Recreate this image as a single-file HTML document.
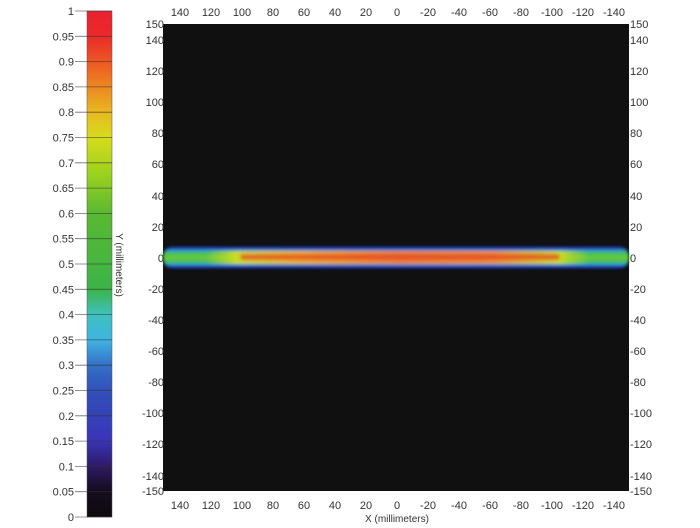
<!DOCTYPE html>
<html><head><style>
html,body{margin:0;padding:0;background:#fff;}
svg{display:block;font-family:"Liberation Sans",Arial,sans-serif;}
</style></head><body>
<svg width="700" height="528" viewBox="0 0 700 528" xmlns="http://www.w3.org/2000/svg">
<defs>
<linearGradient id="cb" x1="0" y1="1" x2="0" y2="0">
<stop offset="0" stop-color="#0d0a0d"/>
<stop offset="0.05" stop-color="#140c1c"/>
<stop offset="0.1" stop-color="#2e1a66"/>
<stop offset="0.15" stop-color="#3a34b8"/>
<stop offset="0.25" stop-color="#3150b8"/>
<stop offset="0.3" stop-color="#3470c8"/>
<stop offset="0.35" stop-color="#3fb4e0"/>
<stop offset="0.4" stop-color="#3fc0c0"/>
<stop offset="0.45" stop-color="#3cb448"/>
<stop offset="0.6" stop-color="#5ab832"/>
<stop offset="0.68" stop-color="#9cd21e"/>
<stop offset="0.75" stop-color="#d8dc1c"/>
<stop offset="0.8" stop-color="#e8b820"/>
<stop offset="0.88" stop-color="#ee6a22"/>
<stop offset="0.95" stop-color="#ea2a2a"/>
<stop offset="1" stop-color="#ea2030"/>
</linearGradient>
<linearGradient id="bandv" x1="0" y1="0" x2="0" y2="1">
<stop offset="0" stop-color="#111"/>
<stop offset="0.1" stop-color="#2030c0"/>
<stop offset="0.2" stop-color="#30a0e0"/>
<stop offset="0.3" stop-color="#40c050"/>
<stop offset="0.5" stop-color="#70c840"/>
<stop offset="0.7" stop-color="#40c050"/>
<stop offset="0.8" stop-color="#30a0e0"/>
<stop offset="0.9" stop-color="#2030c0"/>
<stop offset="1" stop-color="#111"/>
</linearGradient>
<linearGradient id="core" x1="0" y1="0" x2="1" y2="0">
<stop offset="0" stop-color="#c8dc20" stop-opacity="0"/>
<stop offset="0.08" stop-color="#c8dc20" stop-opacity="1"/>
<stop offset="0.25" stop-color="#e8b020"/>
<stop offset="0.5" stop-color="#e8802a"/>
<stop offset="0.75" stop-color="#e8902a"/>
<stop offset="0.92" stop-color="#c8dc20" stop-opacity="1"/>
<stop offset="1" stop-color="#c8dc20" stop-opacity="0"/>
</linearGradient>
<filter id="bl"><feGaussianBlur stdDeviation="1.5"/></filter>
</defs>

<rect x="87" y="11" width="25" height="506" fill="url(#cb)" stroke="#555" stroke-width="0.5"/>
<g stroke="#333" stroke-width="0.8" opacity="0.7">
<line x1="75" y1="11" x2="112" y2="11"/><line x1="75" y1="36.3" x2="112" y2="36.3"/><line x1="75" y1="61.6" x2="112" y2="61.6"/><line x1="75" y1="86.9" x2="112" y2="86.9"/><line x1="75" y1="112.2" x2="112" y2="112.2"/><line x1="75" y1="137.5" x2="112" y2="137.5"/><line x1="75" y1="162.8" x2="112" y2="162.8"/><line x1="75" y1="188.1" x2="112" y2="188.1"/><line x1="75" y1="213.4" x2="112" y2="213.4"/><line x1="75" y1="238.7" x2="112" y2="238.7"/><line x1="75" y1="264" x2="112" y2="264"/><line x1="75" y1="289.3" x2="112" y2="289.3"/><line x1="75" y1="314.6" x2="112" y2="314.6"/><line x1="75" y1="339.9" x2="112" y2="339.9"/><line x1="75" y1="365.2" x2="112" y2="365.2"/><line x1="75" y1="390.5" x2="112" y2="390.5"/><line x1="75" y1="415.8" x2="112" y2="415.8"/><line x1="75" y1="441.1" x2="112" y2="441.1"/><line x1="75" y1="466.4" x2="112" y2="466.4"/><line x1="75" y1="491.7" x2="112" y2="491.7"/><line x1="75" y1="517" x2="112" y2="517"/>
</g>
<g font-size="11" fill="#333" text-anchor="end">
<text x="74" y="15">1</text><text x="74" y="40.3">0.95</text><text x="74" y="65.6">0.9</text><text x="74" y="90.9">0.85</text><text x="74" y="116.2">0.8</text><text x="74" y="141.5">0.75</text><text x="74" y="166.8">0.7</text><text x="74" y="192.1">0.65</text><text x="74" y="217.4">0.6</text><text x="74" y="242.7">0.55</text><text x="74" y="268">0.5</text><text x="74" y="293.3">0.45</text><text x="74" y="318.6">0.4</text><text x="74" y="343.9">0.35</text><text x="74" y="369.2">0.3</text><text x="74" y="394.5">0.25</text><text x="74" y="419.8">0.2</text><text x="74" y="445.1">0.15</text><text x="74" y="470.4">0.1</text><text x="74" y="495.7">0.05</text><text x="74" y="521">0</text>
</g>
<text transform="translate(116,265) rotate(90)" font-size="10" fill="#333" text-anchor="middle">Y (millimeters)</text>

<rect x="163" y="24" width="466" height="467" fill="#101010"/>
<g filter="url(#bl)">
<rect x="163" y="246" width="466" height="23" rx="11" fill="url(#bandv)"/>
<rect x="205" y="251" width="385" height="13" rx="6" fill="url(#core)"/>
<rect x="240" y="254" width="320" height="6" rx="3" fill="#e8402a" opacity="0.7"/>
</g>

<g font-size="11" fill="#333" text-anchor="middle">
<text x="180" y="16">140</text><text x="211" y="16">120</text><text x="242" y="16">100</text><text x="273" y="16">80</text><text x="304" y="16">60</text><text x="335" y="16">40</text><text x="366" y="16">20</text><text x="397" y="16">0</text><text x="428" y="16">-20</text><text x="459" y="16">-40</text><text x="490" y="16">-60</text><text x="521" y="16">-80</text><text x="552" y="16">-100</text><text x="583" y="16">-120</text><text x="614" y="16">-140</text>
<text x="180" y="509">140</text><text x="211" y="509">120</text><text x="242" y="509">100</text><text x="273" y="509">80</text><text x="304" y="509">60</text><text x="335" y="509">40</text><text x="366" y="509">20</text><text x="397" y="509">0</text><text x="428" y="509">-20</text><text x="459" y="509">-40</text><text x="490" y="509">-60</text><text x="521" y="509">-80</text><text x="552" y="509">-100</text><text x="583" y="509">-120</text><text x="614" y="509">-140</text>
</g>
<text x="397" y="522" font-size="10" fill="#333" text-anchor="middle">X (millimeters)</text>

<g font-size="11" fill="#333" text-anchor="end">
<text x="164" y="28">150</text><text x="164" y="44">140</text><text x="164" y="75">120</text><text x="164" y="106">100</text><text x="164" y="137">80</text><text x="164" y="168">60</text><text x="164" y="200">40</text><text x="164" y="231">20</text><text x="164" y="262">0</text><text x="164" y="293">-20</text><text x="164" y="324">-40</text><text x="164" y="355">-60</text><text x="164" y="386">-80</text><text x="164" y="417">-100</text><text x="164" y="448">-120</text><text x="164" y="480">-140</text><text x="164" y="495">-150</text>
</g>
<g font-size="11" fill="#333" text-anchor="start">
<text x="630" y="28">150</text><text x="630" y="44">140</text><text x="630" y="75">120</text><text x="630" y="106">100</text><text x="630" y="137">80</text><text x="630" y="168">60</text><text x="630" y="200">40</text><text x="630" y="231">20</text><text x="630" y="262">0</text><text x="630" y="293">-20</text><text x="630" y="324">-40</text><text x="630" y="355">-60</text><text x="630" y="386">-80</text><text x="630" y="417">-100</text><text x="630" y="448">-120</text><text x="630" y="480">-140</text><text x="630" y="495">-150</text>
</g>
</svg>
</body></html>
